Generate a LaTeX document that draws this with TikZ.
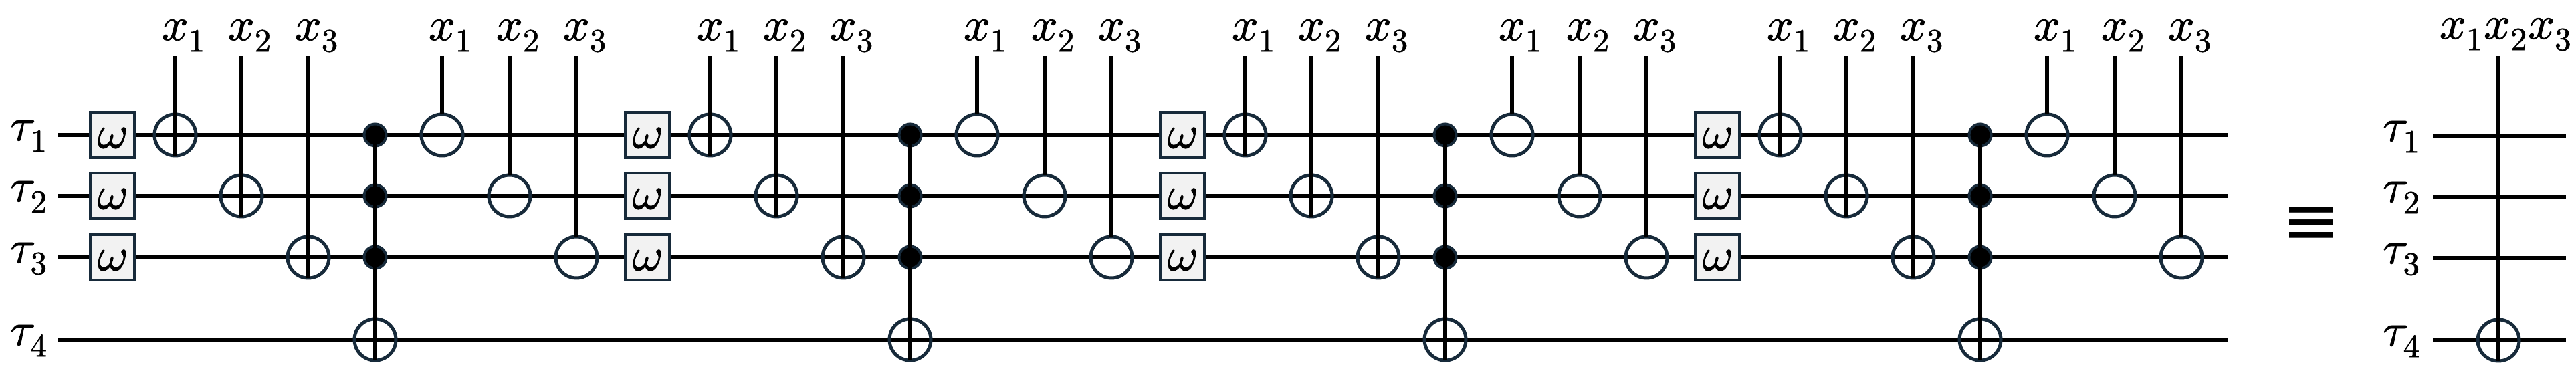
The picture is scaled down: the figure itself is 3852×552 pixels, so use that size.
\documentclass[tikz,border=0pt]{standalone}
\usepackage{fontspec}
\usepackage{unicode-math}
\setmathfont{Latin Modern Math}[FakeBold=1.2]
\newfontfamily\eqfont{DejaVu Sans}
\definecolor{navy}{HTML}{172A3A}
\definecolor{boxgray}{HTML}{F2F2F2}
\tikzset{
  wire/.style={line width=1.4pt, black},
  ctrl/.style={line width=1.45pt, black},
  xorc/.style={circle, draw=navy, line width=1.25pt, minimum size=15.5pt, inner sep=0pt, outer sep=0pt},
  dotc/.style={circle, draw=navy, fill=black, line width=1pt, minimum size=8.25pt, inner sep=0pt, outer sep=0pt},
  ombox/.style={rectangle, draw=navy, fill=boxgray, line width=1.1pt, minimum width=16.4pt, minimum height=17.1pt, inner sep=0pt, outer sep=0pt, text height=9.7pt, text depth=0pt},
  lab/.style={inner sep=0pt, outer sep=0pt},
}
\begin{document}
\begin{tikzpicture}[x=0.25pt, y=-0.25pt, font=\fontsize{17.4}{20}\selectfont]
\useasboundingbox (0,0) rectangle (3852,552);
\fill[white] (0,0) rectangle (3852,552);
% wires and labels
\foreach \i/\y in {1/202,2/293,3/385,4/508}{
  \coordinate (ws\i) at (86,\y);
  \coordinate (we\i) at (3331,\y);
  \draw[wire] (ws\i) -- (we\i);
  \node[lab, anchor=base east] (tl\i) at (72,\y+8) {$\tau_{\i}$};
}
% four repeated blocks
\foreach \k in {0,1,2,3}{
  \pgfmathsetmacro\o{800*\k}
  \foreach \i/\y in {1/202,2/293,3/385}{
    \node[ombox] (om\i-\k) at (\o+168,\y) {$\omega$};
  }
  \foreach \i/\y/\c in {1/202/262,2/293/361,3/385/461}{
    \node[xorc] (xa\i-\k) at (\o+\c,\y) {};
    \coordinate (ta\i-\k) at (\o+\c,84);
    \draw[ctrl] (ta\i-\k) -- (xa\i-\k.south);
    \node[lab, anchor=base west] (la\i-\k) at (\o+\c-20,60) {$x_{\i}$};
  }
  \foreach \i/\y in {1/202,2/293,3/385}{
    \node[dotc] (d\i-\k) at (\o+561,\y) {};
  }
  \node[xorc] (t4-\k) at (\o+561,508) {};
  \draw[ctrl] (d1-\k.center) -- (t4-\k.south);
  \foreach \i/\y/\c in {1/202/661,2/293/762,3/385/862}{
    \node[xorc] (ob\i-\k) at (\o+\c,\y) {};
    \coordinate (tb\i-\k) at (\o+\c,84);
    \draw[ctrl] (tb\i-\k) -- (ob\i-\k.north);
    \node[lab, anchor=base west] (lb\i-\k) at (\o+\c-20,60) {$x_{\i}$};
  }
}
% equivalence
\node[lab, font=\fontsize{26}{30}\selectfont\eqfont] (eq) at (3456,338) {≡};
% right circuit
\foreach \i/\y in {1/203,2/294,3/386,4/509}{
  \coordinate (rs\i) at (3638,\y);
  \coordinate (re\i) at (3837,\y);
  \draw[wire] (rs\i) -- (re\i);
  \node[lab, anchor=base east] (rl\i) at (3620,\y+8) {$\tau_{\i}$};
}
\node[xorc] (rx) at (3736,509) {};
\coordinate (rt) at (3736,84);
\draw[ctrl] (rt) -- (rx.south);
\node[lab, anchor=base west] (rlab) at (3648,58) {$x_1x_2x_3$};
\end{tikzpicture}
\end{document}
